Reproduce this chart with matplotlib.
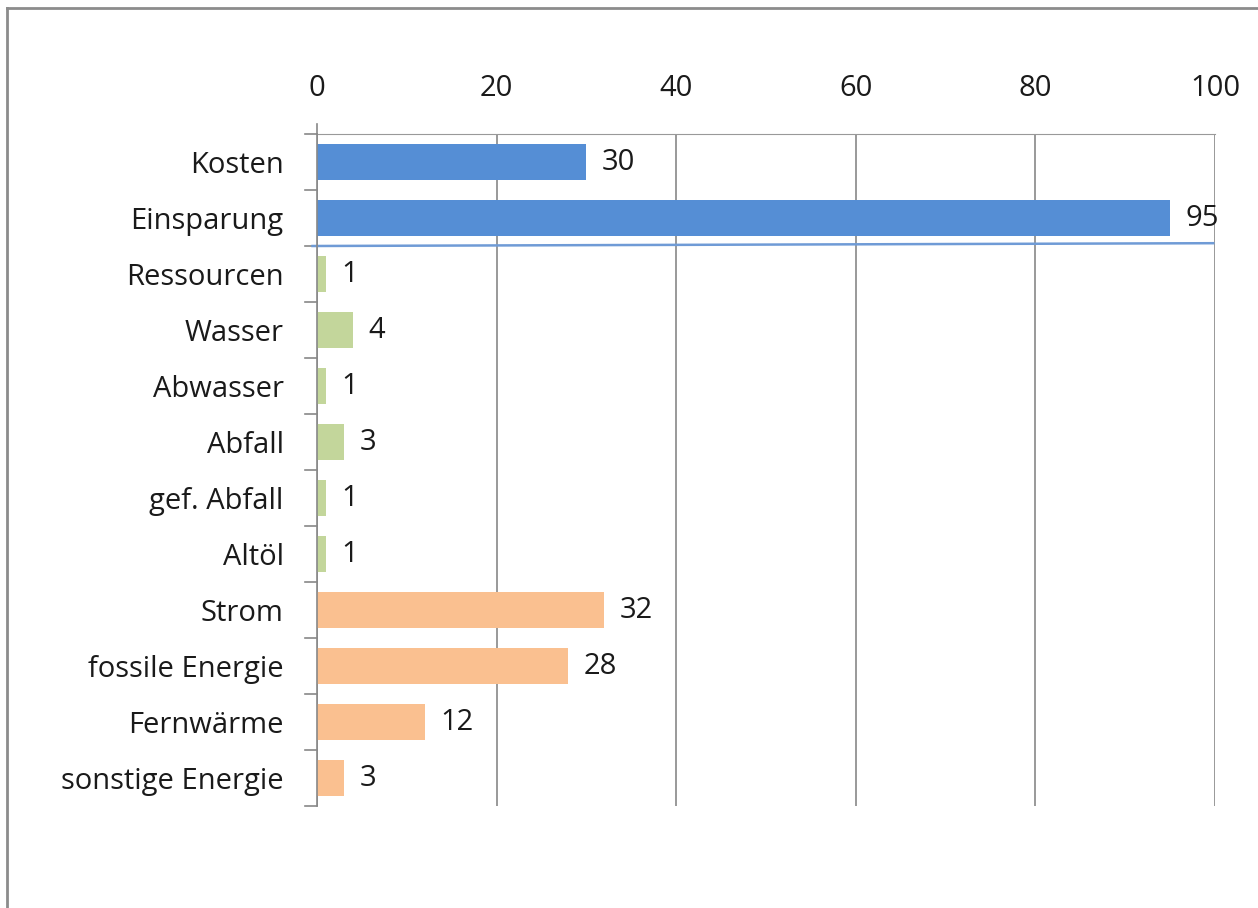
import matplotlib.pyplot as plt
from matplotlib.lines import Line2D

categories = ["Kosten", "Einsparung", "Ressourcen", "Wasser", "Abwasser", "Abfall",
              "gef. Abfall", "Altöl", "Strom", "fossile Energie", "Fernwärme",
              "sonstige Energie"]
values = [30, 95, 1, 4, 1, 3, 1, 1, 32, 28, 12, 3]
groups = ["blue", "blue", "green", "green", "green", "green", "green", "green",
          "orange", "orange", "orange", "orange"]
group_colors = {"blue": "#558ed5", "green": "#c3d69b", "orange": "#fac090"}
xticks = [0, 20, 40, 60, 80, 100]

plt.rcParams['font.family'] = ['Open Sans', 'DejaVu Sans']
FS = 21

W, H = 1258, 908
fig = plt.figure(figsize=(W / 100, H / 100), dpi=100)
ax = fig.add_axes([317 / W, 1 - 806 / H, (1215 - 317) / W, (806 - 134) / H])

n = len(categories)
ypos = list(range(n))
colors = [group_colors[g] for g in groups]
ax.barh(ypos, values, height=0.66, color=colors, zorder=3)
ax.set_ylim(n - 0.5, -0.5)
ax.set_xlim(0, 100)

for y, v in zip(ypos, values):
    ax.text(v + 1.7, y, str(v), va="center", ha="left", fontsize=FS, color="#1a1a1a", zorder=4)

# category labels, ticks at category boundaries
ax.set_yticks(ypos)
ax.set_yticklabels(categories, fontsize=FS, color="#1a1a1a")
ax.tick_params(axis="y", length=0, pad=24)
for b in range(n + 1):
    ax.plot([-1.35, 0], [b - 0.5, b - 0.5], color="#888888", lw=1.2, clip_on=False, zorder=2)

ax.xaxis.tick_top()
ax.set_xticks(xticks)
ax.set_xticklabels([str(t) for t in xticks], fontsize=FS, color="#1a1a1a")
ax.tick_params(axis="x", length=0, pad=22)
ax.grid(axis="x", color="#888888", lw=1.2, zorder=1)
ax.plot([0, 0], [-0.5, -0.68], color="#888888", lw=1.2, clip_on=False)

for s in ["right", "bottom"]:
    ax.spines[s].set_visible(False)
ax.spines["top"].set_color("#999999")
ax.spines["left"].set_color("#888888")
ax.spines["left"].set_linewidth(1.2)
ax.spines["left"].set_zorder(5)

# separator between the summary rows and the detailed rows
ax.plot([-0.5, 99.8], [1.5, 1.45], color="#6f9bd6", lw=1.8, clip_on=False, zorder=5)

# frame around the figure (left and top edges)
fig.add_artist(Line2D([7 / W, 7 / W], [0, 1 - 8 / H], color="#8c8c8c", lw=2))
fig.add_artist(Line2D([7 / W, 1], [1 - 8 / H, 1 - 8 / H], color="#8c8c8c", lw=2))

fig.savefig("out.png", dpi=100)
